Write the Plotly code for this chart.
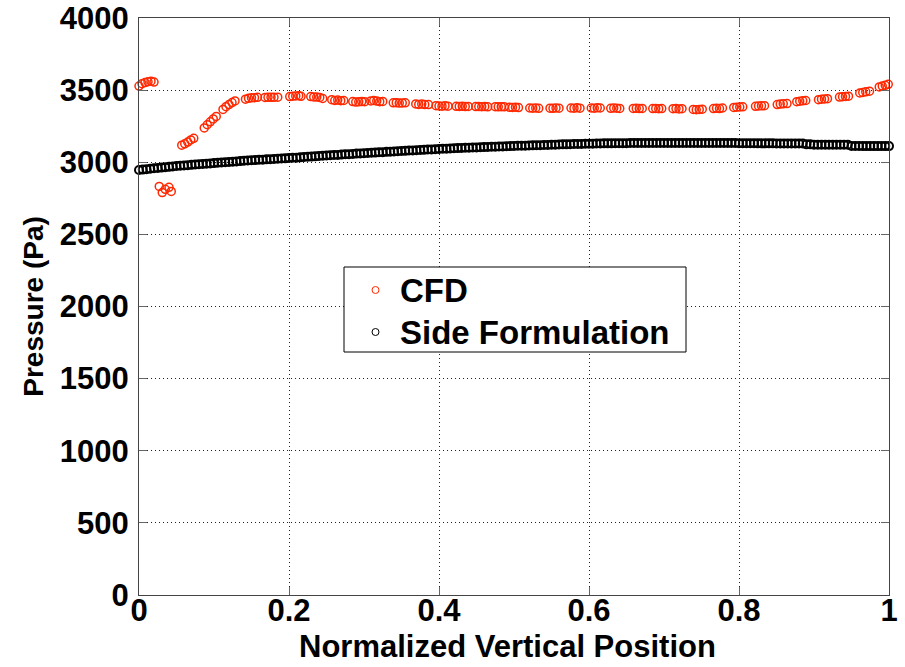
import plotly.graph_objects as go

# ---- CFD pressure samples (normalized vertical position, Pa) ----
cfd_x = [
    0.000, 0.004, 0.008, 0.012, 0.016, 0.020,
    0.027, 0.031, 0.035, 0.040, 0.043,
    0.057, 0.061, 0.065, 0.069, 0.073,
    0.087, 0.091, 0.095, 0.099, 0.103,
    0.112, 0.116, 0.120, 0.124, 0.128,
    0.142, 0.146, 0.150, 0.154, 0.158,
    0.168, 0.172, 0.176, 0.180, 0.185,
    0.201, 0.205, 0.209, 0.213, 0.216,
    0.229, 0.233, 0.237, 0.241, 0.245,
    0.257, 0.261, 0.265, 0.269, 0.273,
    0.285, 0.289, 0.293, 0.297, 0.301,
    0.309, 0.313, 0.317, 0.321, 0.325,
    0.339, 0.343, 0.347, 0.351, 0.355,
    0.369, 0.373, 0.377, 0.381, 0.386,
    0.396, 0.400, 0.404, 0.408, 0.412,
    0.423, 0.427, 0.431, 0.435, 0.439,
    0.449, 0.453, 0.457, 0.461, 0.465,
    0.475, 0.479, 0.483, 0.487,
    0.494, 0.498, 0.502, 0.506,
    0.521, 0.525, 0.529, 0.533,
    0.548, 0.552, 0.556, 0.560,
    0.576, 0.580, 0.584, 0.588,
    0.603, 0.607, 0.611, 0.615,
    0.629, 0.633, 0.637, 0.641,
    0.659, 0.663, 0.667, 0.671,
    0.685, 0.689, 0.693, 0.697,
    0.712, 0.716, 0.720, 0.724,
    0.739, 0.743, 0.747, 0.751,
    0.766, 0.770, 0.774, 0.778,
    0.793, 0.797, 0.801, 0.805,
    0.822, 0.826, 0.830, 0.834,
    0.851, 0.855, 0.859, 0.864,
    0.877, 0.881, 0.885, 0.889,
    0.906, 0.910, 0.914, 0.918,
    0.934, 0.938, 0.942, 0.946,
    0.961, 0.965, 0.969, 0.974,
    0.987, 0.991, 0.995, 0.999,
]
cfd_p = [
    3528, 3545, 3552, 3558, 3562, 3556,
    2832, 2790, 2812, 2826, 2798,
    3118, 3128, 3140, 3155, 3166,
    3238, 3260, 3280, 3300, 3318,
    3366, 3385, 3400, 3414, 3425,
    3437, 3443, 3447, 3448, 3450,
    3449, 3450, 3450, 3450, 3451,
    3455, 3458, 3460, 3461, 3457,
    3455, 3453, 3452, 3449, 3442,
    3434, 3428, 3431, 3427, 3428,
    3421, 3417, 3419, 3421, 3420,
    3425, 3428, 3424, 3420, 3422,
    3412, 3413, 3410, 3411, 3412,
    3404, 3401, 3403, 3400, 3400,
    3392, 3390, 3389, 3391, 3389,
    3388, 3387, 3388, 3386, 3387,
    3386, 3386, 3385, 3386, 3384,
    3385, 3384, 3385, 3384,
    3381, 3380, 3382, 3379,
    3376, 3375, 3376, 3374,
    3375, 3374, 3376, 3375,
    3376, 3375, 3377, 3375,
    3376, 3375, 3377, 3376,
    3374, 3376, 3375, 3373,
    3373, 3374, 3372, 3373,
    3372, 3373, 3371, 3372,
    3371, 3372, 3370, 3371,
    3366, 3364, 3366, 3368,
    3372, 3374, 3372, 3376,
    3380, 3382, 3383, 3384,
    3388, 3390, 3391, 3392,
    3400, 3403, 3405, 3407,
    3420, 3423, 3426, 3428,
    3434, 3437, 3439, 3441,
    3452, 3454, 3456, 3458,
    3480, 3484, 3488, 3493,
    3522, 3528, 3533, 3540,
]

# ---- Side formulation pressure (Pa) ----
side_x = [
    0.000, 0.005, 0.010, 0.015, 0.020, 0.025, 0.030, 0.035, 0.040, 0.045,
    0.050, 0.055, 0.060, 0.065, 0.070, 0.075, 0.080, 0.085, 0.090, 0.095,
    0.100, 0.105, 0.110, 0.115, 0.120, 0.125, 0.130, 0.135, 0.140, 0.145,
    0.150, 0.155, 0.160, 0.165, 0.170, 0.175, 0.180, 0.185, 0.190, 0.195,
    0.200, 0.205, 0.210, 0.215, 0.220, 0.225, 0.230, 0.235, 0.240, 0.245,
    0.250, 0.255, 0.260, 0.265, 0.270, 0.275, 0.280, 0.285, 0.290, 0.295,
    0.300, 0.305, 0.310, 0.315, 0.320, 0.325, 0.330, 0.335, 0.340, 0.345,
    0.350, 0.355, 0.360, 0.365, 0.370, 0.375, 0.380, 0.385, 0.390, 0.395,
    0.400, 0.405, 0.410, 0.415, 0.420, 0.425, 0.430, 0.435, 0.440, 0.445,
    0.450, 0.455, 0.460, 0.465, 0.470, 0.475, 0.480, 0.485, 0.490, 0.495,
    0.500, 0.505, 0.510, 0.515, 0.520, 0.525, 0.530, 0.535, 0.540, 0.545,
    0.550, 0.555, 0.560, 0.565, 0.570, 0.575, 0.580, 0.585, 0.590, 0.595,
    0.600, 0.605, 0.610, 0.615, 0.620, 0.625, 0.630, 0.635, 0.640, 0.645,
    0.650, 0.655, 0.660, 0.665, 0.670, 0.675, 0.680, 0.685, 0.690, 0.695,
    0.700, 0.705, 0.710, 0.715, 0.720, 0.725, 0.730, 0.735, 0.740, 0.745,
    0.750, 0.755, 0.760, 0.765, 0.770, 0.775, 0.780, 0.785, 0.790, 0.795,
    0.800, 0.805, 0.810, 0.815, 0.820, 0.825, 0.830, 0.835, 0.840, 0.845,
    0.850, 0.855, 0.860, 0.865, 0.870, 0.875, 0.880, 0.885, 0.890, 0.895,
    0.900, 0.905, 0.910, 0.915, 0.920, 0.925, 0.930, 0.935, 0.940, 0.945,
    0.950, 0.955, 0.960, 0.965, 0.970, 0.975, 0.980, 0.985, 0.990, 0.995,
    1.000,
]
side_p = [
    2946, 2949, 2952, 2955, 2958, 2960, 2963, 2966, 2968, 2971,
    2974, 2976, 2978, 2980, 2982, 2984, 2986, 2988, 2990, 2992,
    2994, 2996, 2998, 3000, 3002, 3004, 3006, 3008, 3010, 3012,
    3014, 3015, 3017, 3018, 3020, 3021, 3023, 3024, 3026, 3027,
    3029, 3031, 3032, 3034, 3036, 3038, 3039, 3041, 3043, 3045,
    3047, 3048, 3050, 3051, 3053, 3055, 3056, 3058, 3060, 3061,
    3063, 3064, 3066, 3067, 3069, 3070, 3072, 3073, 3075, 3076,
    3078, 3079, 3081, 3082, 3083, 3085, 3086, 3088, 3089, 3090,
    3092, 3093, 3094, 3095, 3097, 3098, 3099, 3100, 3101, 3102,
    3103, 3104, 3105, 3106, 3107, 3108, 3109, 3110, 3111, 3112,
    3113, 3114, 3115, 3115, 3116, 3117, 3118, 3118, 3119, 3120,
    3121, 3122, 3123, 3124, 3124, 3125, 3126, 3127, 3127, 3128,
    3129, 3129, 3130, 3130, 3131, 3131, 3131, 3132, 3132, 3132,
    3132, 3133, 3133, 3133, 3133, 3133, 3133, 3133, 3133, 3133,
    3133, 3133, 3133, 3133, 3133, 3133, 3133, 3133, 3133, 3133,
    3133, 3133, 3133, 3133, 3133, 3133, 3133, 3133, 3133, 3133,
    3132, 3132, 3132, 3132, 3132, 3131, 3131, 3131, 3131, 3131,
    3130, 3130, 3130, 3130, 3130, 3130, 3130, 3130, 3124, 3124,
    3122, 3122, 3122, 3122, 3122, 3122, 3122, 3122, 3122, 3122,
    3113, 3113, 3113, 3112, 3112, 3112, 3112, 3112, 3112, 3112,
    3112,
]

series_names = ["CFD", "Side Formulation"]
x_ticks = [0, 0.2, 0.4, 0.6, 0.8, 1]
x_tick_text = ["0", "0.2", "0.4", "0.6", "0.8", "1"]
y_ticks = [0, 500, 1000, 1500, 2000, 2500, 3000, 3500, 4000]

FONT = "Liberation Sans, Arial, Helvetica, sans-serif"
RED = "rgb(255,40,0)"
colors = [RED, "black"]

# plot area in pixels, used to place the boxed key in paper units
W, H = 905, 667
L, R, T, B = 139, 16, 18, 72
PW, PH = W - L - R, H - T - B


def px_x(px):
    return (px - L) / PW


def px_y(py):
    return (H - B - py) / PH


fig = go.Figure()
fig.add_trace(go.Scatter(
    x=cfd_x, y=cfd_p, mode="markers", name=series_names[0], cliponaxis=False,
    marker=dict(symbol="circle-open", size=8, color=RED, line=dict(width=1.5, color=RED)),
))
fig.add_trace(go.Scatter(
    x=side_x, y=side_p, mode="markers", name=series_names[1], cliponaxis=False,
    marker=dict(symbol="circle-open", size=8, color="black", line=dict(width=2, color="black")),
))

axis_common = dict(
    showline=True, linecolor="#444", linewidth=1, mirror="ticks",
    ticks="inside", ticklen=8, tickcolor="#666",
    showgrid=True, gridcolor="#222", griddash="1px,3px", gridwidth=1,
    zeroline=False, automargin=False,
)

# boxed key
shapes = [dict(
    type="rect", xref="paper", yref="paper",
    x0=px_x(344), x1=px_x(686), y0=px_y(352), y1=px_y(267),
    line=dict(color="black", width=1), fillcolor="white", layer="above",
)]
annotations = []
for i, (name, col) in enumerate(zip(series_names, colors)):
    cy = 290 + 42 * i
    shapes.append(dict(
        type="circle", xref="paper", yref="paper",
        x0=px_x(372), x1=px_x(379), y0=px_y(cy + 3.5), y1=px_y(cy - 3.5),
        line=dict(color=col, width=1), layer="above",
    ))
    annotations.append(dict(
        text=name, xref="paper", yref="paper", x=px_x(398), y=px_y(cy),
        xanchor="left", yanchor="middle", showarrow=False,
        font=dict(family=FONT, size=33, color="black", weight="bold"),
    ))

annotations.append(dict(
    text="Normalized Vertical Position", xref="paper", yref="paper",
    x=px_x(507), y=px_y(666), xanchor="center", yanchor="bottom", showarrow=False,
    font=dict(family=FONT, size=31, color="black", weight="bold"),
))

fig.update_layout(
    width=W, height=H,
    margin=dict(l=L, r=R, t=T, b=B),
    plot_bgcolor="white", paper_bgcolor="white",
    font=dict(family=FONT, color="black", weight="bold"),
    showlegend=False,
    shapes=shapes,
    annotations=annotations,
    xaxis=dict(
        range=[0, 1], tickvals=x_ticks, ticktext=x_tick_text,
        tickfont=dict(family=FONT, size=31, weight="bold"),
        ticklabelstandoff=-12,
        **axis_common,
    ),
    yaxis=dict(
        range=[0, 4000], tickvals=y_ticks,
        tickfont=dict(family=FONT, size=31, weight="bold"),
        ticklabelstandoff=3,
        title=dict(text="Pressure (Pa)", standoff=8,
                   font=dict(family=FONT, size=28, weight="bold")),
        **axis_common,
    ),
)

fig.write_html("out.html")
